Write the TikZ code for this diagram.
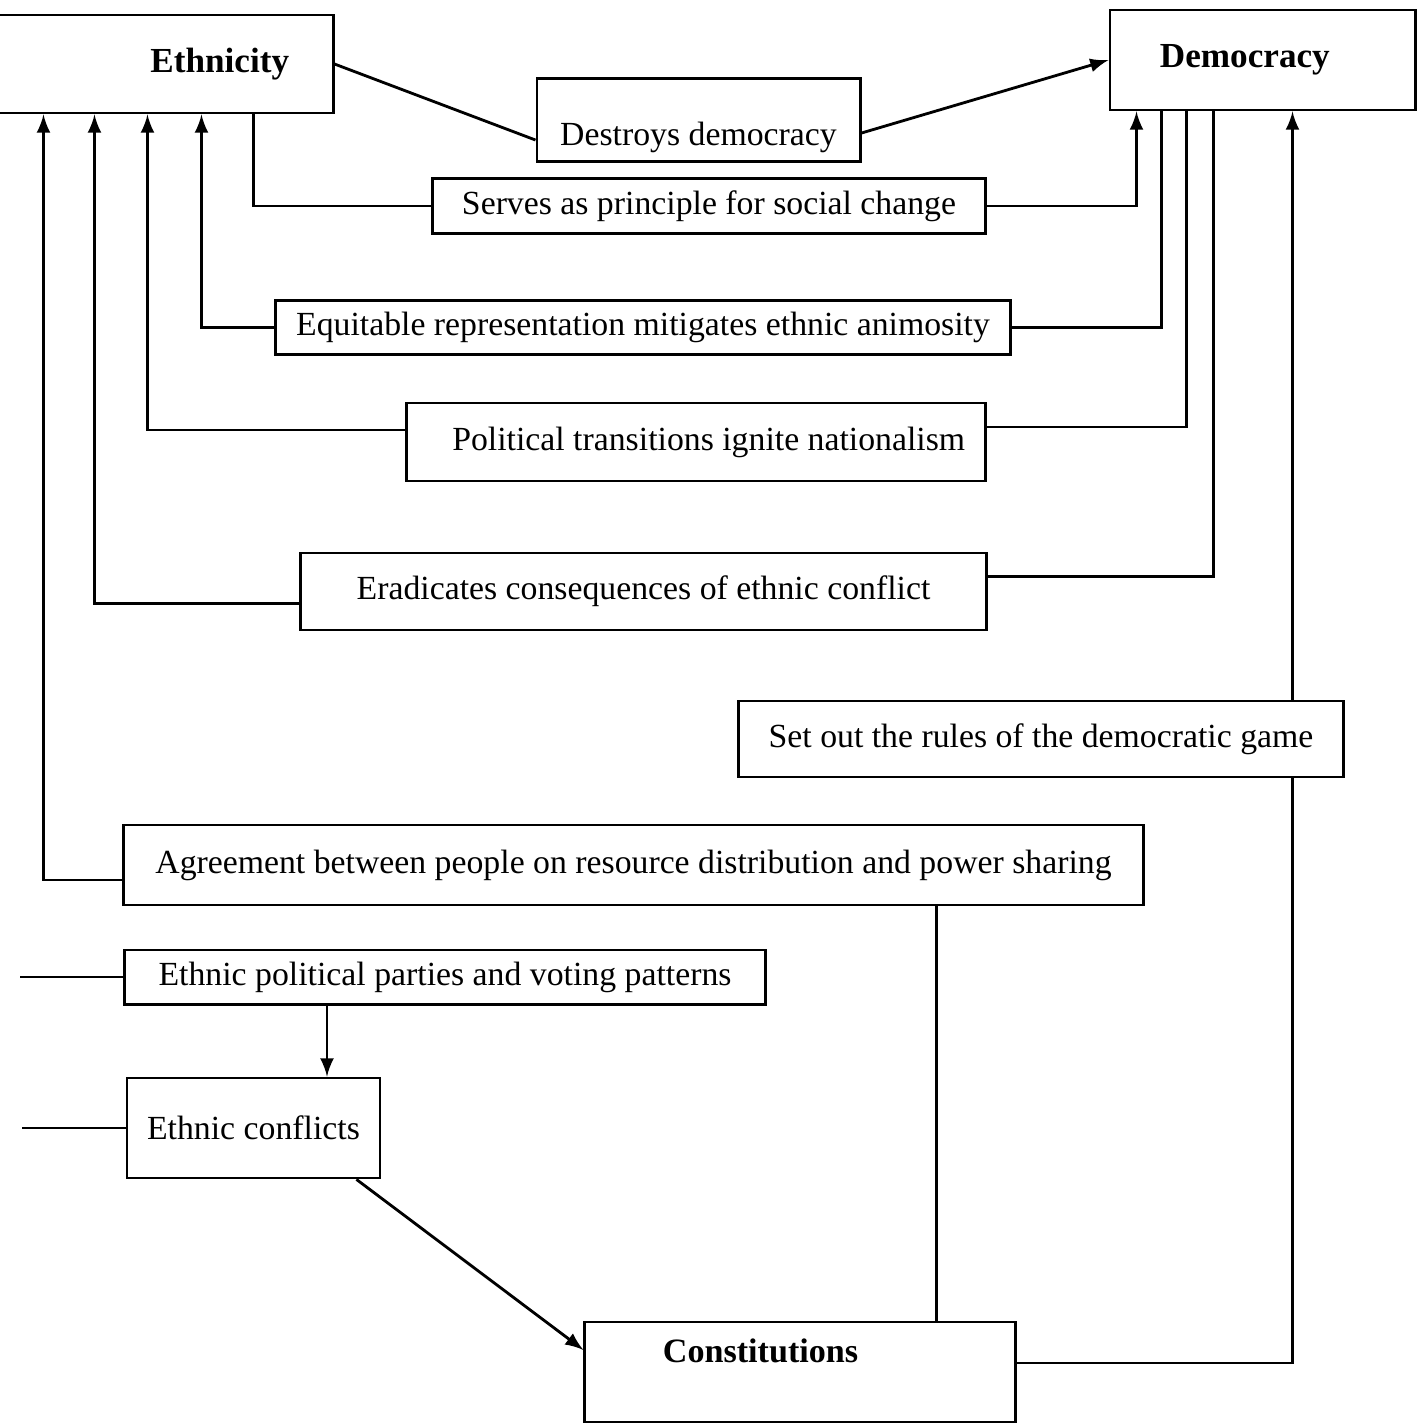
\documentclass[tikz,border=0pt]{standalone}
\usepackage{fontspec}
\setmainfont{Liberation Serif}
\usetikzlibrary{calc}

\begin{document}
\begin{tikzpicture}[x=0.01cm,y=-0.01cm]
\path[use as bounding box,clip] (0,0) rectangle (1421,1423);
\begin{scope}[every node/.style={rectangle,thick,draw,font=\fontsize{9.6}{11}\selectfont}]
    \node (ethnicity)[minimum width=3.73cm,minimum height=0.98cm,text width=2.85cm,align=flush right,font=\fontsize{10}{12}\selectfont\bfseries] at (146.5,64) {Ethnicity};
    \node (democracy)[minimum width=3.05cm,minimum height=1cm,text width=2.05cm,align=flush left,font=\fontsize{10}{12}\selectfont\bfseries] at (1262.5,60) {Democracy};
    \node (destroys)[minimum width=3.23cm,minimum height=0.8cm,text height=0.55cm,text depth=0.05cm] at (698.5,120) {Destroys democracy};
    \node (serves)[minimum width=5.52cm,minimum height=0.52cm] at (709,206) {Serves as principle for social change};
    \node (equit)[minimum width=7.34cm,minimum height=0.51cm] at (643,327.5) {Equitable representation mitigates ethnic animosity};
    \node (politic)[minimum width=5.78cm,minimum height=0.78cm,text width=5.38cm,align=flush right] at (696,442) {Political transitions ignite nationalism};
    \node (eradic)[minimum width=6.85cm,minimum height=0.77cm] at (643.5,591.5) {Eradicates consequences of ethnic conflict};
    \node (setout)[minimum width=6.04cm,minimum height=0.76cm] at (1041,739) {Set out the rules of the democratic game};
    \node (agree)[minimum width=10.19cm,minimum height=0.8cm] at (633.5,865) {Agreement between people on resource distribution and power sharing};
    \node (parties)[minimum width=6.4cm,minimum height=0.5cm] at (445,977) {Ethnic political parties and voting patterns};
    \node (conflicts)[minimum width=2.53cm,minimum height=1cm] at (253.5,1128) {Ethnic conflicts};
    \node (constit)[minimum width=4.3cm,minimum height=1cm,text width=2.74cm,align=flush left,text height=0.25cm,text depth=0.45cm,font=\fontsize{9.7}{12}\selectfont\bfseries] at (800,1372) {Constitutions};
\end{scope}

% ports on the two top boxes
\coordinate (e1) at ($(ethnicity.south west)+(85,0)$);
\coordinate (e2) at ($(ethnicity.south west)+(136,0)$);
\coordinate (e3) at ($(ethnicity.south west)+(189,0)$);
\coordinate (e4) at ($(ethnicity.south west)+(243,0)$);
\coordinate (e5) at ($(ethnicity.south west)+(295,0)$);
\coordinate (d1) at ($(democracy.south west)+(28,0)$);
\coordinate (d2) at ($(democracy.south west)+(53,0)$);
\coordinate (d3) at ($(democracy.south west)+(78,0)$);
\coordinate (d4) at ($(democracy.south west)+(105,0)$);
\coordinate (d5) at ($(democracy.south west)+(184,0)$);
\coordinate (c1) at ($(constit.north west)+(353,0)$);
\coordinate (k1) at ($(parties.south)+(-118,0)$);
\coordinate (p0) at (20,977);
\coordinate (q0) at (22,1128);

\begin{scope}[thick,arr/.style={-latex}]
    \draw (ethnicity.east) -- ([yshift=-0.2cm]destroys.west);
    \draw[arr] ([yshift=-0.13cm]destroys.east) -- (democracy.west);
    \draw (e5) |- (serves.west);
    \draw[arr] (serves.east) -| (d1);
    \draw (d2) |- (equit.east);
    \draw[arr] (equit.west) -| (e4);
    \draw (d3) |- ([yshift=0.15cm]politic.east);
    \draw[arr] ([yshift=0.12cm]politic.west) -| (e3);
    \draw (d4) |- ([yshift=0.15cm]eradic.east);
    \draw[arr] ([yshift=-0.12cm]eradic.west) -| (e2);
    \draw[arr] ([yshift=-0.15cm]agree.west) -| (e1);
    \draw (c1) -- (c1 |- agree.south);
    \draw ([yshift=0.09cm]constit.east) -| (d5 |- setout.south);
    \draw[arr] (d5 |- setout.north) -- (d5);
    \draw (p0) -- (parties.west);
    \draw (q0) -- (conflicts.west);
    \draw[arr] (k1) -- (k1 |- conflicts.north);
    \draw[arr] ([xshift=-0.25cm]conflicts.south east) -- ([yshift=0.22cm]constit.west);
\end{scope}
\end{tikzpicture}
\end{document}
